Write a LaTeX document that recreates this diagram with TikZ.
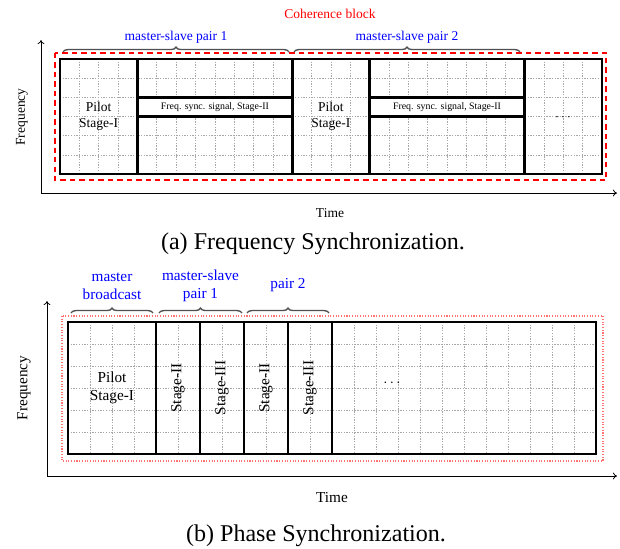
\documentclass[tikz,border=0pt]{standalone}
\usepackage{fontspec}
\setmainfont{Liberation Serif}
\usetikzlibrary{arrows.meta,decorations.pathreplacing,positioning}
\definecolor{syInk}{HTML}{000000}
\definecolor{syGrid}{HTML}{A8A8A8}
\definecolor{syBrace}{HTML}{505050}
\definecolor{syBlue}{HTML}{0000FF}
\definecolor{syRed}{HTML}{FF0000}
\tikzset{
  sy slot/.style={draw=syInk, line width=1.9pt},
  sy band/.style={draw=syInk, fill=white, line width=1.9pt},
  sy grid/.style={draw=syGrid, line width=.45pt, dash pattern=on 1pt off 1pt},
  sy block dashed/.style={draw=syRed, line width=1pt, dash pattern=on 4pt off 3pt},
  sy block dotted/.style={draw=syRed!55, line width=.8pt, dash pattern=on .8pt off 1.2pt},
  sy brace/.style={draw=syBrace, line width=1pt, decorate,
    decoration={brace, amplitude=3.6pt}},
  sy axis/.style={draw=syInk, line width=.6pt, -{To[length=3pt,width=5pt]}},
  sy text a/.style={font=\fontsize{10}{12}\selectfont, text=syInk},
  sy text b/.style={font=\fontsize{11.3}{13.4}\selectfont, text=syInk, align=center},
  sy small/.style={font=\fontsize{7.3}{9}\selectfont, text=syInk},
  sy pair a/.style={font=\fontsize{10}{12}\selectfont, text=syBlue},
  sy pair b/.style={font=\fontsize{11.3}{13.4}\selectfont, text=syBlue, align=center},
  sy caption/.style={font=\fontsize{17.8}{21}\selectfont, text=syInk}
}

\begin{document}
\begin{tikzpicture}[x=0.74pt,y=-0.74pt]
  \useasboundingbox (0,0) rectangle (620,548);

  % (a) frequency synchronization
  \coordinate (originA) at (41,193);
  \coordinate (timeEndA) at (617,193);
  \coordinate (freqEndA) at (41,40);
  \draw[sy axis] (originA) -- (timeEndA);
  \draw[sy axis] (originA) -- (freqEndA);
  \draw[sy block dashed] (55,53) rectangle (606,180);

  \foreach \i in {1,...,27}
    \draw[sy grid] ({60+\i*19.357},59) -- ++(0,115);
  \foreach \j in {1,...,5}
    \draw[sy grid] (60,{59+\j*19.17}) -- (602,{59+\j*19.17});

  \draw[sy slot] (60,59) rectangle (602,174);
  \foreach \c in {4,12,16,24}
    \draw[sy slot] ({60+\c*19.357},59) -- ({60+\c*19.357},174);
  \draw[sy band] ({60+4*19.357},97.3) rectangle ({60+12*19.357},116.5);
  \draw[sy band] ({60+16*19.357},97.3) rectangle ({60+24*19.357},116.5);

  \node[sy text a, align=center] (pilotA1) at (98.7,116.5) {Pilot\\Stage-I};
  \node[sy text a, align=center] (pilotA2) at (330.8,116.5) {Pilot\\Stage-I};
  \node[sy small] (signalA1) at (214.9,106.9) {Freq. sync. signal, Stage-II};
  \node[sy small] (signalA2) at (447,106.9) {Freq. sync. signal, Stage-II};
  \node[sy text a] (moreA) at (563,117) {$\cdots$};

  \draw[sy brace] (63,52) -- (289,52);
  \draw[sy brace] (294,52) -- (520,52);
  \node[sy pair a] (pairA1) at (176,37.5) {master-slave pair 1};
  \node[sy pair a] (pairA2) at (407,37.5) {master-slave pair 2};
  \node[sy pair a, text=syRed] (coherence) at (330,13.5) {Coherence block};

  \node[sy text a, rotate=90] (freqA) at (22,117) {Frequency};
  \node[sy text a] (timeA) at (330,213) {Time};
  \node[sy caption] (capA) at (313,244) {(a) Frequency Synchronization.};

  % (b) phase synchronization
  \coordinate (originB) at (47,476);
  \coordinate (timeEndB) at (617,476);
  \coordinate (freqEndB) at (47,301);
  \draw[sy axis] (originB) -- (timeEndB);
  \draw[sy axis] (originB) -- (freqEndB);
  \draw[sy block dotted] (62,316) rectangle (603,461);

  \foreach \i in {1,...,23}
    \draw[sy grid] ({68+\i*22},322) -- ++(0,132);
  \foreach \j in {1,...,5}
    \draw[sy grid] (68,{322+\j*22}) -- (596,{322+\j*22});

  \draw[sy slot] (68,322) rectangle (596,454);
  \foreach \c in {4,6,8,10,12}
    \draw[sy slot] ({68+\c*22},322) -- ({68+\c*22},454);

  \node[sy text b] (pilotB) at (112,388) {Pilot\\Stage-I};
  \node[sy text b, rotate=90] (stageB1) at (178,388) {Stage-II};
  \node[sy text b, rotate=90] (stageB2) at (222,388) {Stage-III};
  \node[sy text b, rotate=90] (stageB3) at (266,388) {Stage-II};
  \node[sy text b, rotate=90] (stageB4) at (310,388) {Stage-III};
  \node[sy text b] (moreB) at (392,383) {$\cdots$};

  \draw[sy brace] (71,313) -- (153,313);
  \draw[sy brace] (159,313) -- (242,313);
  \draw[sy brace] (247,313) -- (329,313);
  \node[sy pair b] (broadcast) at (112,286) {master\\broadcast};
  \node[sy pair b] (pairB1) at (200.5,286) {master-slave\\pair 1};
  \node[sy pair b] (pairB2) at (288,285) {pair 2};

  \node[sy text b, rotate=90] (freqB) at (24,388) {Frequency};
  \node[sy text b] (timeB) at (332,498) {Time};
  \node[sy caption] (capB) at (316,536) {(b) Phase Synchronization.};
\end{tikzpicture}
\end{document}
